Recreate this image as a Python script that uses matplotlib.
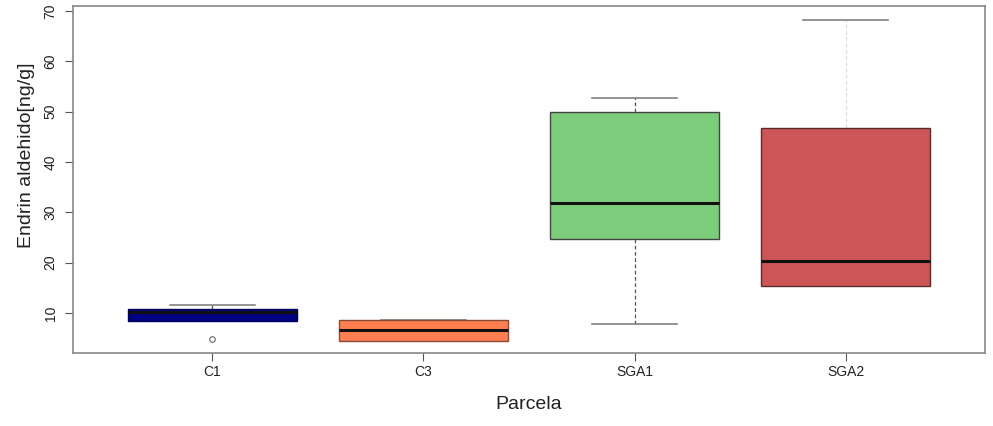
import matplotlib
matplotlib.use("Agg")
import matplotlib.pyplot as plt

plt.rcParams['font.family'] = ['Liberation Sans', 'DejaVu Sans']

# values
parcelas = ["C1", "C3", "SGA1", "SGA2"]
q1 = [8.4, 4.4, 24.7, 15.4]
medians = [10.2, 6.6, 31.8, 20.3]
q3 = [10.8, 8.6, 49.9, 46.7]
whis_lo = [8.4, 4.4, 7.9, 15.3]
whis_hi = [11.6, 8.6, 52.8, 68.2]
outliers = [[4.8], [], [], []]
colores = ["#000080", "#FF7F50", "#7CCD7C", "#CD5555"]
bordes = ["#000060", "#8a4a35", "#444444", "#5a2a2a"]
bigotes = ["#555555", "#555555", "#555555", "#dddddd"]

stats = []
for i in range(len(parcelas)):
    stats.append(dict(label=parcelas[i], q1=q1[i], med=medians[i], q3=q3[i],
                      whislo=whis_lo[i], whishi=whis_hi[i], fliers=outliers[i]))

fig = plt.figure(figsize=(9.93, 4.26), dpi=100)
ax = fig.add_axes([0.0735, 0.1714, 0.9185, 0.8145])

bp = ax.bxp(stats, positions=[1, 2, 3, 4], widths=0.8, patch_artist=True,
            boxprops=dict(edgecolor="#444444", linewidth=1),
            medianprops=dict(color="#111111", linewidth=2.2),
            whiskerprops=dict(color="#555555", linestyle=(0, (3, 2)), linewidth=0.9),
            capprops=dict(color="#777777", linewidth=1.1),
            flierprops=dict(marker="o", markersize=4, markerfacecolor="none",
                            markeredgecolor="#666666", markeredgewidth=0.8),
            capwidths=0.4)
for i, patch in enumerate(bp["boxes"]):
    patch.set_facecolor(colores[i])
    patch.set_edgecolor(bordes[i])
    patch.set_zorder(3)
    bp["medians"][i].set_zorder(4)
    for w in bp["whiskers"][2 * i:2 * i + 2]:
        w.set_color(bigotes[i])
        w.set_zorder(1)
    for c in bp["caps"][2 * i:2 * i + 2]:
        c.set_zorder(1)

ax.set_xlim(0.34, 4.66)
ax.set_ylim(2.05, 71.0)
ax.set_yticks([10, 20, 30, 40, 50, 60, 70])
ax.tick_params(axis="y", labelrotation=90, length=6, pad=5, labelsize=10,
               color="#555555", labelcolor="#222222")
for lab in ax.get_yticklabels():
    lab.set_va("center")
ax.tick_params(axis="x", length=6, pad=3, labelsize=10,
               color="#555555", labelcolor="#222222")
for s in ax.spines.values():
    s.set_color("#888888")
    s.set_linewidth(1.2)

ax.set_ylabel("Endrin aldehido[ng/g]", fontsize=14, color="#222222")
ax.yaxis.set_label_coords(-0.042, 0.57)
ax.set_xlabel("Parcela", fontsize=14, color="#222222")
ax.xaxis.set_label_coords(0.5, -0.125)

fig.savefig("out.png", dpi=100)
